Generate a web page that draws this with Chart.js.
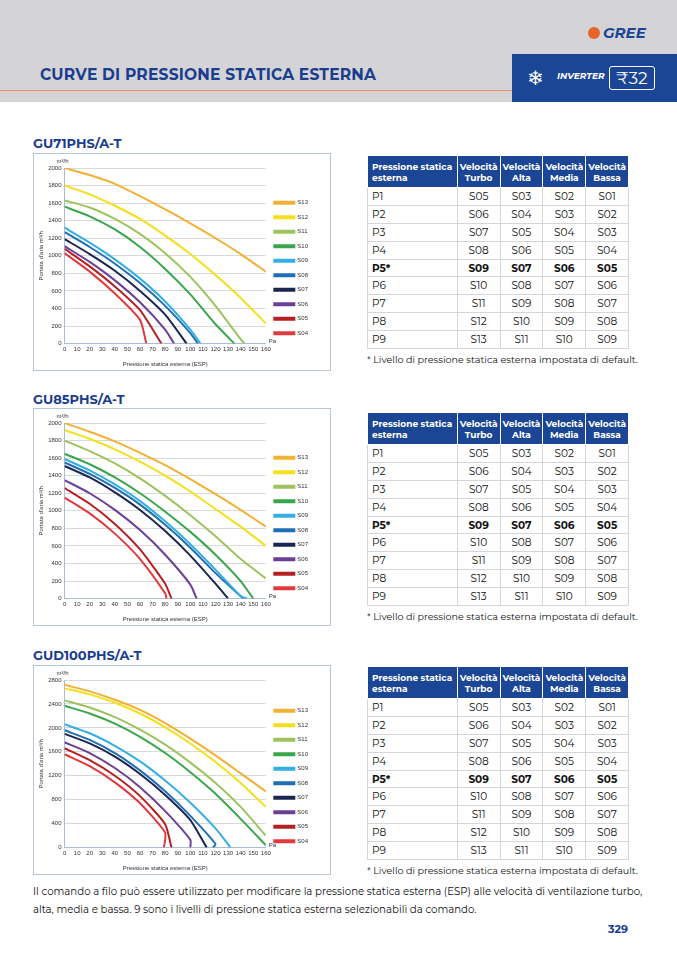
<!DOCTYPE html>
<html><head><meta charset="utf-8">
<script src="https://cdn.jsdelivr.net/npm/chart.js@4.4.1/dist/chart.umd.min.js"></script>
<style>
body{margin:0;width:677px;height:958px;position:relative;background:#fff;font-family:Montserrat,"Open Sans",sans-serif;overflow:hidden}
.hdr{position:absolute;left:0;top:0;width:677px;height:102px;background:#d4d4d6}
.line{position:absolute;left:0;top:90px;width:512px;height:1px;background:#e9946a}
.title{position:absolute;left:40px;top:65px;font-size:15.5px;font-weight:bold;color:#1a3d8f;letter-spacing:.2px}
.blue{position:absolute;left:512px;top:54px;width:165px;height:48px;background:#1b4595;color:#fff}
.gree{position:absolute;left:588px;top:23px;font-size:15px;font-weight:bold;font-style:italic;color:#1b4595}
.gree span{display:inline-block;width:12px;height:12px;border-radius:6px;background:#e6632a;margin-right:3px;vertical-align:-1px}
.model{position:absolute;left:33px;font-size:13px;font-weight:bold;color:#1a3d8f}
.box{position:absolute;left:33px;width:296px;border:1px solid #b9c4d8}
table{position:absolute;left:367px;width:262px;border-collapse:collapse;font-size:10.5px;color:#111}
th{background:#1b4595;color:#fff;font-size:9px;font-weight:bold;height:31px;border:1px solid #fff;padding:0 2px;text-align:center}
th:first-child{text-align:left;padding-left:4px}
td{height:16.9px;border:1px solid #d6d6d6;text-align:center;padding:0}
td:first-child{text-align:left;padding-left:4px}
tr.b td{font-weight:bold}
.note{position:absolute;left:367px;font-size:9.6px;color:#111}
.foot{position:absolute;left:33px;top:883px;width:615px;font-size:10.2px;line-height:18px;color:#111}
.pg{position:absolute;left:608px;top:922px;font-size:11px;font-weight:bold;color:#1a3d8f}
</style></head><body>
<div class="hdr"></div><div class="line"></div>
<div class="title">CURVE DI PRESSIONE STATICA ESTERNA</div>
<div class="gree"><span></span>GREE</div>
<div class="blue">
 <div style="position:absolute;left:15px;top:12px;font-size:20px">❄</div>
 <div style="position:absolute;left:45px;top:16px;font-size:9px;font-style:italic;font-weight:bold">INVERTER</div>
 <div style="position:absolute;left:97px;top:12px;width:44px;height:22px;border:1px solid #fff;border-radius:3px;font-size:17px;text-align:center;line-height:22px">₹32</div>
</div>

<div class="model" style="top:135px">GU71PHS/A-T</div>
<div class="box" style="top:153px;height:216px"><canvas id="c1"></canvas></div>
<div class="model" style="top:391px">GU85PHS/A-T</div>
<div class="box" style="top:408px;height:216px"><canvas id="c2"></canvas></div>
<div class="model" style="top:647px">GUD100PHS/A-T</div>
<div class="box" style="top:665px;height:208px"><canvas id="c3"></canvas></div>

<div class="foot">Il comando a filo può essere utilizzato per modificare la pressione statica esterna (ESP) alle velocità di ventilazione turbo, alta, media e bassa. 9 sono i livelli di pressione statica esterna selezionabili da comando.</div>
<div class="pg">329</div>

<script>
const speeds = ['S13','S12','S11','S10','S09','S08','S07','S06','S05','S04'];
const colors = ['#f2b134','#f5df1c','#9dc35d','#3aa64c','#35aee3','#1f6fb4','#1c2550','#6b3f98','#b52025','#e03a3e'];
const pressure = [0,20,40,60,80,100,120,140,160];
const tickLabels = [0,10,20,30,40,50,60,70,80,90,100,110,120,130,140,150,160];

// flows at 0,20,...,160 Pa, then the Pa where the curve hits 0
const gu71Flow = [
 [2000,1920,1820,1680,1530,1370,1200,1020,820],
 [1800,1700,1570,1420,1230,1020,780,520,230],
 [1630,1550,1420,1250,1030,760,430,50],
 [1560,1450,1300,1100,850,560,220],
 [1320,1150,960,740,480,160],
 [1270,1100,910,690,430,120],
 [1190,1020,830,600,330],
 [1110,930,720,470,160],
 [1080,880,650,380],
 [1030,820,570,270]
];
const gu71End = [null,null,143,135,108,106,97,87,77,65];

const gu85Flow = [
 [2000,1900,1790,1660,1520,1360,1190,1010,820],
 [1920,1820,1700,1560,1400,1220,1020,820,600],
 [1800,1680,1540,1370,1170,950,710,450,230],
 [1650,1530,1380,1200,990,760,500,200],
 [1590,1460,1300,1110,880,620,330,30],
 [1550,1420,1260,1070,840,580,290],
 [1510,1380,1210,1010,770,490,170],
 [1350,1200,1010,780,500,160],
 [1260,1080,850,560,170],
 [1150,970,740,450,60]
];
const gu85End = [null,null,null,150,145,142,130,105,85,81];

const gud100Flow = [
 [2720,2610,2470,2300,2080,1820,1540,1240,940],
 [2660,2560,2420,2240,2010,1740,1430,1080,680],
 [2460,2340,2180,1970,1720,1420,1080,680,200],
 [2370,2240,2070,1850,1580,1260,900,480,40],
 [2060,1910,1700,1440,1120,750,320],
 [1960,1800,1580,1290,940,530,60],
 [1900,1740,1520,1230,880,460],
 [1760,1580,1330,1010,610,130],
 [1660,1460,1200,860,390],
 [1560,1360,1090,740,250]
];
const gud100End = [null,null,null,null,132,118,113,100,85,79];

const tableRows = [
 ['P1','S05','S03','S02','S01'],['P2','S06','S04','S03','S02'],['P3','S07','S05','S04','S03'],
 ['P4','S08','S06','S05','S04'],['P5*','S09','S07','S06','S05'],['P6','S10','S08','S07','S06'],
 ['P7','S11','S09','S08','S07'],['P8','S12','S10','S09','S08'],['P9','S13','S11','S10','S09']
];
const tableHead = ['Pressione statica esterna','Velocità Turbo','Velocità Alta','Velocità Media','Velocità Bassa'];

function makeTable(top){
  let h = '<table style="top:'+top+'px"><tr>' + tableHead.map((t,i)=>'<th>'+(i?t.replace(' ','<br>'):t)+'</th>').join('') + '</tr>';
  tableRows.forEach(r => { h += '<tr'+(r[0]=='P5*'?' class="b"':'')+'>' + r.map(c=>'<td>'+c+'</td>').join('') + '</tr>'; });
  h += '</table><div class="note" style="top:'+(top+199)+'px">* Livello di pressione statica esterna impostata di default.</div>';
  document.body.insertAdjacentHTML('beforeend', h);
}
makeTable(155); makeTable(412); makeTable(666);

const unitText = {
  id:'unitText',
  afterDraw(c){
    const a = c.chartArea, x = c.ctx;
    x.save(); x.fillStyle='#333'; x.font='6px sans-serif';
    x.fillText('m³/h', a.left-8, a.top-5);
    x.fillText('Pa', a.right+3, a.bottom-1);
    x.restore();
  }
};

function draw(id, flows, ends, maxY, step){
  const datasets = speeds.map((s,i) => {
    const pts = flows[i].map((v,j) => ({x:pressure[j], y:v}));
    if (ends[i] !== null) pts.push({x:ends[i], y:0});
    return {label:s, data:pts, borderColor:colors[i], backgroundColor:colors[i], borderWidth:2, pointRadius:0, tension:0.2};
  });
  new Chart(document.getElementById(id), {
    type:'line',
    data:{datasets},
    plugins:[unitText],
    options:{
      responsive:true, maintainAspectRatio:false, animation:false,
      layout:{padding:{top:14,right:12,left:4,bottom:2}},
      plugins:{
        legend:{position:'right', labels:{boxWidth:20, boxHeight:2, padding:8.5, font:{size:6}, color:'#333'}},
        tooltip:{enabled:false}
      },
      scales:{
        x:{type:'linear', min:0, max:160, afterBuildTicks:ax=>{ax.ticks=tickLabels.map(v=>({value:v}));},
           ticks:{font:{size:6}, color:'#333', autoSkip:false, maxRotation:0, padding:2},
           grid:{display:false, drawTicks:false}, border:{color:'#a8bcd6'},
           title:{display:true, text:'Pressione statica esterna (ESP)', font:{size:6}, color:'#333', padding:{top:6,bottom:0}}},
        y:{min:0, max:maxY, ticks:{stepSize:step, font:{size:6}, color:'#333', padding:3, callback:v=>String(v)},
           grid:{color:'#d9d9d9', drawTicks:false}, border:{color:'#a8bcd6'},
           title:{display:true, text:"Portata d'aria m³/h", font:{size:6}, color:'#333', padding:0}}
      }
    }
  });
}
draw('c1', gu71Flow, gu71End, 2000, 200);
draw('c2', gu85Flow, gu85End, 2000, 200);
draw('c3', gud100Flow, gud100End, 2800, 400);
</script>
</body></html>
